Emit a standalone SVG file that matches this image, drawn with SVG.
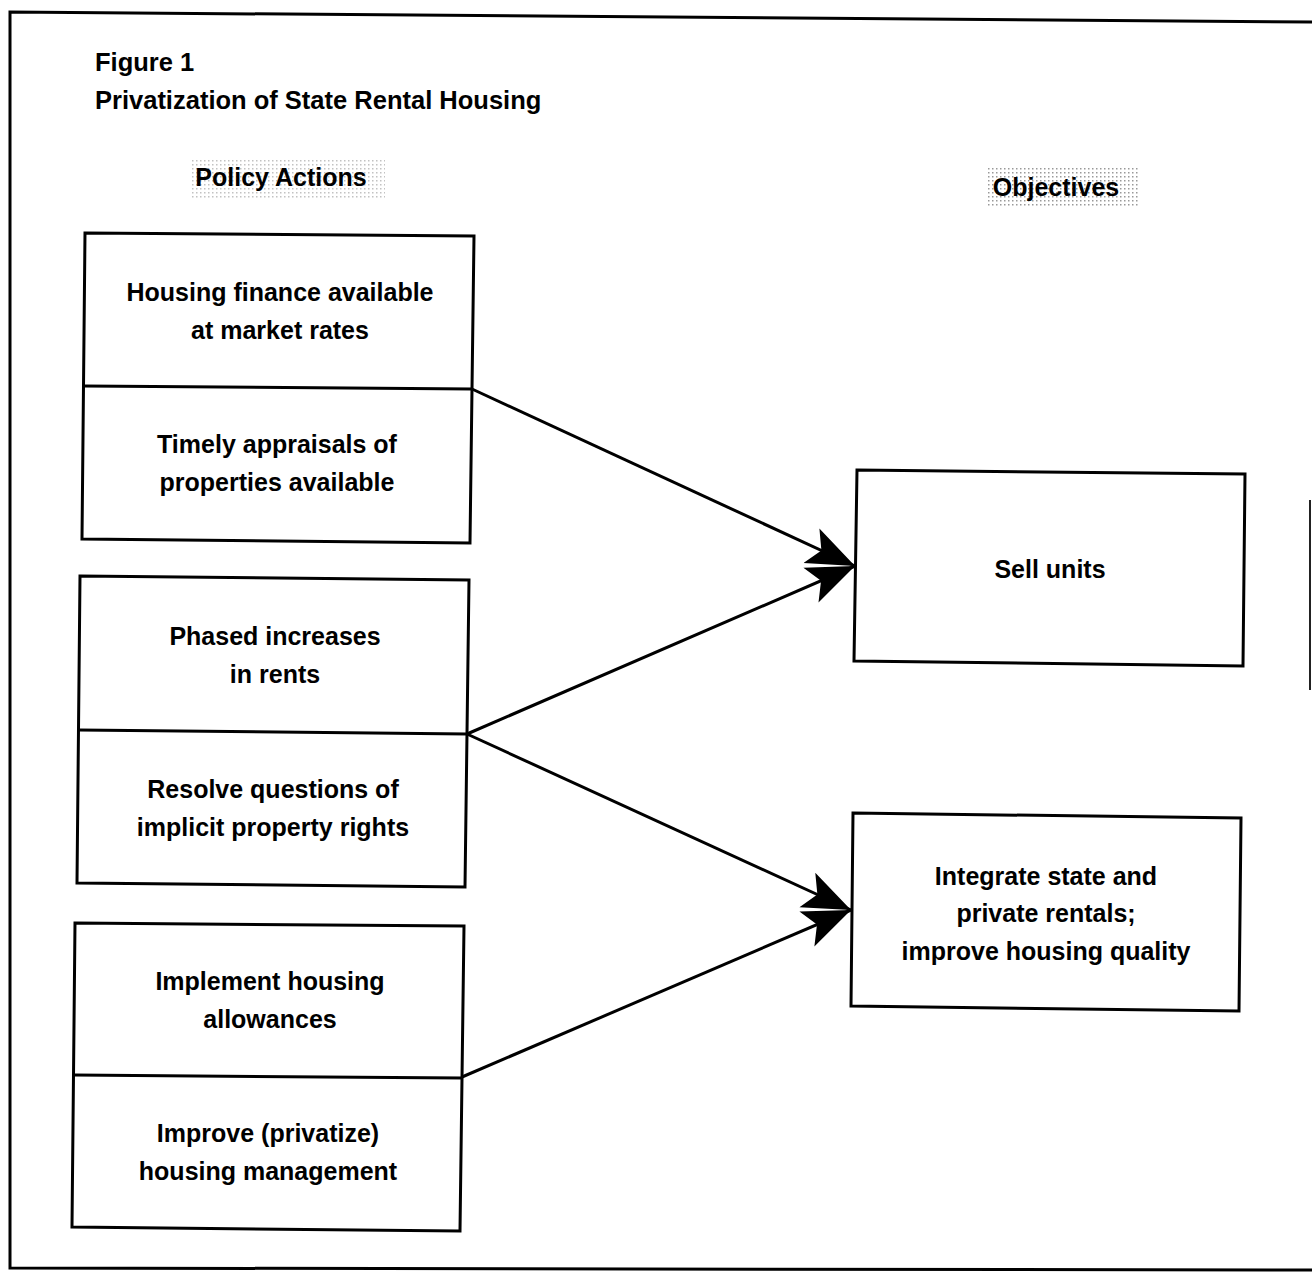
<svg xmlns="http://www.w3.org/2000/svg" width="1312" height="1272" viewBox="0 0 1312 1272">
<defs>
<style>
.box{fill:none;stroke:#000;stroke-width:3}
.t{font-family:"Liberation Sans",Arial,sans-serif;font-size:25px;font-weight:bold;fill:#000;text-anchor:middle}
.title{font-family:"Liberation Sans",Arial,sans-serif;font-size:25.5px;font-weight:bold;fill:#000}
.line{fill:none;stroke:#000;stroke-width:3}
</style>
<pattern id="dots" width="4" height="4" patternUnits="userSpaceOnUse">
<rect width="4" height="4" fill="#fff"/>
<rect x="0" y="0" width="1.5" height="1.5" fill="#999"/>
</pattern>
<marker id="ah" markerUnits="userSpaceOnUse" markerWidth="52" markerHeight="46" refX="48" refY="23" orient="auto">
<path d="M0,4 L48,23 L0,42 L11,23 Z" fill="#000"/>
</marker>
</defs>
<rect width="1312" height="1272" fill="#fff"/>
<g id="frame">
<path d="M1312,22 L10,12 L10,1268 L1312,1270" fill="none" stroke="#000" stroke-width="3"/>
<line x1="1310" y1="500" x2="1310" y2="690" stroke="#222" stroke-width="2"/>
</g>
<g id="title">
<text class="title" x="95" y="71">Figure 1</text>
<text class="title" x="95" y="109">Privatization of State Rental Housing</text>
</g>
<g id="hdr-policy">
<rect x="190" y="160" width="195" height="40" fill="url(#dots)" opacity="0.6"/>
<text class="t" x="281" y="186">Policy Actions</text>
</g>
<g id="hdr-objectives">
<rect x="988" y="168" width="150" height="40" fill="url(#dots)"/>
<text class="t" x="1056" y="196">Objectives</text>
</g>
<g id="n1">
<polygon class="box" points="85,233 474,236 470,543 82,539"/>
<line class="box" x1="84" y1="386" x2="472" y2="389"/>
<text class="t" x="280" y="301">Housing finance available</text>
<text class="t" x="280" y="339">at market rates</text>
<text class="t" x="277" y="453">Timely appraisals of</text>
<text class="t" x="277" y="491">properties available</text>
</g>
<g id="n2">
<polygon class="box" points="80,576 469,580 465,887 77,883"/>
<line class="box" x1="79" y1="730" x2="467" y2="734"/>
<text class="t" x="275" y="645">Phased increases</text>
<text class="t" x="275" y="683">in rents</text>
<text class="t" x="273" y="798">Resolve questions of</text>
<text class="t" x="273" y="836">implicit property rights</text>
</g>
<g id="n3">
<polygon class="box" points="75,923 464,926 460,1231 72,1227"/>
<line class="box" x1="74" y1="1075" x2="462" y2="1078"/>
<text class="t" x="270" y="990">Implement housing</text>
<text class="t" x="270" y="1028">allowances</text>
<text class="t" x="268" y="1142">Improve (privatize)</text>
<text class="t" x="268" y="1180">housing management</text>
</g>
<g id="n4">
<polygon class="box" points="857,470 1245,474 1243,666 854,661"/>
<text class="t" x="1050" y="578">Sell units</text>
</g>
<g id="n5">
<polygon class="box" points="853,813 1241,818 1239,1011 851,1006"/>
<text class="t" x="1046" y="885">Integrate state and</text>
<text class="t" x="1046" y="922">private rentals;</text>
<text class="t" x="1046" y="960">improve housing quality</text>
</g>
<g id="connectors">
<line class="line" x1="472" y1="389" x2="855" y2="566" marker-end="url(#ah)"/>
<line class="line" x1="467" y1="734" x2="855" y2="566" marker-end="url(#ah)"/>
<line class="line" x1="467" y1="734" x2="851" y2="910" marker-end="url(#ah)"/>
<line class="line" x1="462" y1="1077" x2="851" y2="910" marker-end="url(#ah)"/>
</g>
</svg>
